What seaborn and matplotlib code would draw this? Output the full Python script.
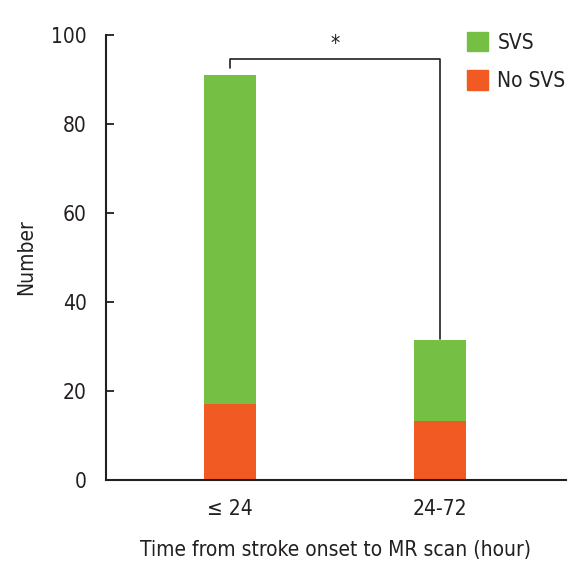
import matplotlib
matplotlib.use("Agg")
import matplotlib.pyplot as plt
import seaborn as sns
import pandas as pd
from matplotlib.patches import Patch

# data
groups = ["\u2264 24", "24-72"]
no_svs = [17, 13.3]
svs = [74, 18.2]
totals = [a + b for a, b in zip(no_svs, svs)]

GREEN = "#74bf44"
ORANGE = "#f15a22"
INK = "#231f20"

sns.set_style("ticks")
plt.rcParams["font.family"] = ["Liberation Sans Narrow", "DejaVu Sans"]
plt.rcParams["font.stretch"] = "condensed"
plt.rcParams["text.color"] = INK
plt.rcParams["axes.labelcolor"] = INK
plt.rcParams["xtick.color"] = INK
plt.rcParams["ytick.color"] = INK

df = pd.DataFrame({"group": groups, "total": totals, "no_svs": no_svs})

fig = plt.figure(figsize=(5.81, 5.72), dpi=100)
ax = fig.add_axes([0.1824, 0.1608, 0.7916, 0.778])

# stacked bars: total (green) behind, No SVS (orange) in front
sns.barplot(data=df, x="group", y="total", color=GREEN, width=0.25,
            saturation=1, linewidth=0, ax=ax)
sns.barplot(data=df, x="group", y="no_svs", color=ORANGE, width=0.25,
            saturation=1, linewidth=0, ax=ax)

ax.set_xlim(-0.59, 1.6)
ax.set_ylim(0, 100)
ax.set_yticks([0, 20, 40, 60, 80, 100])
ax.tick_params(axis="y", direction="in", length=6, width=1.3, labelsize=15, pad=14)
ax.tick_params(axis="x", length=0, labelsize=15, pad=14)
ax.set_xlabel("Time from stroke onset to MR scan (hour)", fontsize=15, labelpad=15)
ax.set_ylabel("Number", fontsize=15, labelpad=11)
sns.despine(ax=ax)
for s in ["left", "bottom"]:
    ax.spines[s].set_linewidth(1.5)
    ax.spines[s].set_color(INK)

# significance bracket
ax.plot([0, 0, 1, 1], [92.5, 94.6, 94.6, totals[1] + 0.3], color=INK, lw=1.2,
        clip_on=False)
ax.text(0.5, 98, "*", ha="center", va="center", fontsize=15)

handles = [Patch(color=GREEN, label="SVS"), Patch(color=ORANGE, label="No SVS")]
ax.legend(handles=handles, loc="upper left", bbox_to_anchor=(0.767, 1.026),
          frameon=False, fontsize=15, handlelength=1.0, handleheight=1.05,
          handletextpad=0.45, labelspacing=0.85, borderaxespad=0)

fig.savefig("out.png", dpi=100)
